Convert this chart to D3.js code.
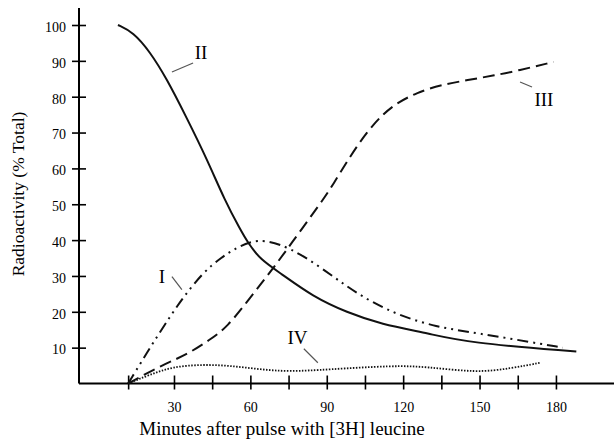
<!DOCTYPE html>
<html>
<head>
<meta charset="utf-8">
<script src="https://cdn.jsdelivr.net/npm/d3@7"></script>
<style>
  html, body { margin: 0; padding: 0; background: #fff; }
  svg { display: block; }
  svg text { font-family: "Liberation Serif", "Times New Roman", Times, "DejaVu Serif", serif; fill: #000; }
</style>
</head>
<body>
<svg id="chart"></svg>
<script>
// values (minutes, % of total radioactivity)
const tickMinutes = [12, 30, 45, 60, 75, 90, 105, 120, 135, 150, 165, 180];
const labelMinutes = [30, 60, 90, 120, 150, 180];
const tickPercent = [10, 20, 30, 40, 50, 60, 70, 80, 90, 100];

const timeI = [12, 21.8, 28.4, 33.5, 41.4, 48.8, 54.7, 59.8, 65.7, 75.5, 87.3, 97.9, 108.1, 119.9, 133.2, 145, 164.7, 182.7];
const valueI = [0, 11.4, 18.6, 23.9, 31, 35.3, 37.9, 39.5, 40.1, 37.9, 32.6, 27, 22.5, 18.6, 15.8, 14.5, 12.2, 10];

const timeII = [8, 14, 20.6, 27, 35, 43, 50, 56, 59, 64, 71.6, 84.6, 98, 111, 130.5, 145, 188];
const valueII = [100, 98, 92.5, 85.2, 74.1, 62.5, 51, 43, 39.3, 34.5, 30.9, 24.2, 19.8, 16.6, 13.9, 11.4, 8.9];

const timeIII = [12, 25.7, 35, 44, 50.8, 60, 68.5, 75.5, 88.5, 92.4, 99.1, 105.8, 111.7, 117.6, 125.4, 134.4, 150, 163, 179];
const valueIII = [0, 5.3, 8, 12.2, 15.6, 24, 31.7, 38.5, 51.2, 55.4, 63.3, 70.2, 74.9, 78.3, 81.1, 83.3, 85.2, 86.9, 89.7];

const timeIV = [12, 20.6, 29.6, 41, 52, 64, 75.5, 90, 116, 129, 149, 162, 174];
const valueIV = [0, 2.5, 4.7, 5.3, 5, 3.9, 3.3, 3.9, 5, 4.7, 3, 4.2, 5.8];

const curveNames = ["I", "II", "III", "IV"];
const labelTime = [25.3, 40.6, 175.3, 78.5];
const labelValue = [28.1, 90.5, 77.4, 11.1];
const leaderFrom = [[29.2, 29.8], [37.5, 89.4], [165.9, 84.1], [81, 9.7]];
const leaderTo = [[33.1, 26.2], [29.2, 86.9], [170.6, 82.7], [86.5, 5.8]];

const width = 616, height = 443;

const svg = d3.select("#chart")
    .attr("width", width)
    .attr("height", height);

const x = d3.scaleLinear().domain([-7.3, 202.8]).range([79, 614]);
const y = d3.scaleLinear().domain([0, 100]).range([383.5, 25]);

// axes
svg.append("line")
    .attr("x1", x(-7.3)).attr("x2", x(202.8))
    .attr("y1", y(0)).attr("y2", y(0))
    .attr("stroke", "#000").attr("stroke-width", 2);
svg.append("line")
    .attr("x1", x(-7.3)).attr("x2", x(-7.3))
    .attr("y1", y(0)).attr("y2", 8)
    .attr("stroke", "#000").attr("stroke-width", 2);

const xAxis = svg.append("g")
    .attr("transform", `translate(0,${y(0)})`)
    .call(d3.axisBottom(x).tickValues(tickMinutes).tickSize(6)
        .tickFormat(d => labelMinutes.includes(d) ? d : ""));
xAxis.attr("font-family", null);
xAxis.select(".domain").remove();
xAxis.selectAll(".tick line").attr("y1", -8).attr("stroke", "#000").attr("stroke-width", 1.6);
xAxis.selectAll(".tick text")
    .attr("y", 28).attr("dy", 0)
    .style("font-size", "14px");

const yAxis = svg.append("g")
    .attr("transform", `translate(${x(-7.3)},0)`)
    .call(d3.axisLeft(y).tickValues(tickPercent).tickSize(7));
yAxis.attr("font-family", null);
yAxis.select(".domain").remove();
yAxis.selectAll(".tick line").attr("x1", 7).attr("stroke", "#000").attr("stroke-width", 1.6);
yAxis.selectAll(".tick text")
    .attr("x", -13).attr("dy", "0.45em")
    .style("font-size", "14px");

// axis titles
svg.append("text")
    .attr("x", 282).attr("y", 435)
    .attr("text-anchor", "middle")
    .style("font-size", "19px")
    .text("Minutes after pulse with [3H] leucine");

svg.append("text")
    .attr("transform", "translate(24,194) rotate(-90)")
    .attr("text-anchor", "middle")
    .style("font-size", "17.5px")
    .text("Radioactivity (% Total)");

// curves
const line = d3.line()
    .x(d => x(d[0]))
    .y(d => y(d[1]))
    .curve(d3.curveBasis);

const curves = [
    { t: timeI, v: valueI, dash: "11,5,2,5,2,5", w: 2 },
    { t: timeII, v: valueII, dash: null, w: 2 },
    { t: timeIII, v: valueIII, dash: "12,6", w: 2 },
    { t: timeIV, v: valueIV, dash: "1.5,1.5", w: 1.8 }
];

svg.selectAll("path.curve")
    .data(curves)
    .enter()
    .append("path")
    .attr("class", "curve")
    .attr("d", c => line(c.t.map((t, i) => [t, c.v[i]])))
    .attr("fill", "none")
    .attr("stroke", "#111")
    .attr("stroke-width", c => c.w)
    .attr("stroke-dasharray", c => c.dash);

// curve labels and leader lines
svg.selectAll("line.leader")
    .data(curveNames)
    .enter()
    .append("line")
    .attr("class", "leader")
    .attr("x1", (d, i) => x(leaderFrom[i][0]))
    .attr("y1", (d, i) => y(leaderFrom[i][1]))
    .attr("x2", (d, i) => x(leaderTo[i][0]))
    .attr("y2", (d, i) => y(leaderTo[i][1]))
    .attr("stroke", "#555")
    .attr("stroke-width", 1.2);

svg.selectAll("text.curve-label")
    .data(curveNames)
    .enter()
    .append("text")
    .attr("class", "curve-label")
    .attr("x", (d, i) => x(labelTime[i]))
    .attr("y", (d, i) => y(labelValue[i]))
    .attr("text-anchor", "middle")
    .style("font-size", "19px")
    .text(d => d);
</script>
</body>
</html>
